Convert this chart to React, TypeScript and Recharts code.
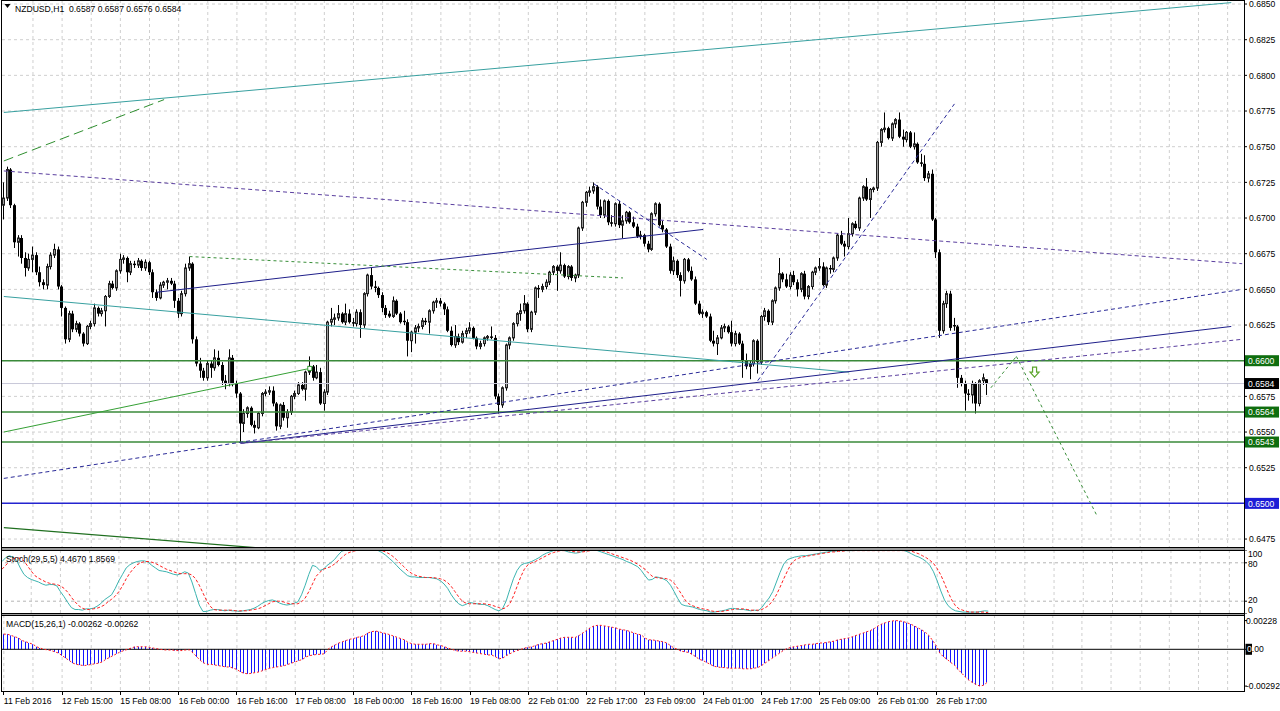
import React from 'react';
import { ComposedChart, Bar, Line, XAxis, YAxis, CartesianGrid, ReferenceLine, ReferenceDot } from 'recharts';

const FONT = "'Liberation Sans', Arial, sans-serif";
const FS = 8.6;
const SLOTS = 341; // 271 bars plus the empty chart shift on the right

// NZDUSD H1 candles, in pips above 0.6500: open high low close
const candleText = `
209 225 199 214, 214 236 212 234, 234 235 207 209, 209 210 179 183, 183 188 173 186, 186 188 168 172, 172 176 159 165, 165 175 163 171, 171 180 162 174, 174 176 160 162,
162 166 152 155, 155 157 150 153, 153 168 150 166, 166 176 164 174, 174 182 172 178, 178 180 150 152, 152 153 131 137, 137 138 112 115, 115 135 113 133, 133 135 120 122,
122 128 120 126, 126 127 117 119, 119 120 110 112, 112 125 111 124, 124 128 122 126, 126 140 124 137, 137 138 131 133, 133 137 131 135, 135 146 124 145, 145 156 144 154,
154 156 150 151, 151 164 149 163, 163 175 161 171, 171 174 168 172, 172 173 155 162, 162 170 160 168, 168 170 165 167, 167 172 165 170, 170 171 163 165, 165 171 163 169,
169 170 160 162, 162 164 144 148, 148 150 142 144, 144 155 143 153, 153 156 151 155, 155 158 150 156, 156 158 153 154, 154 156 137 142, 142 144 130 133, 133 149 131 147,
147 168 145 165, 165 173 163 168, 168 169 112 115, 115 117 96 98, 98 102 88 93, 93 95 86 88, 88 100 86 98, 98 100 88 95, 95 108 93 102, 102 107 96 97,
97 99 83 86, 86 90 80 84, 84 108 82 102, 102 104 82 84, 84 86 74 77, 77 78 43 56, 56 66 50 63, 63 68 60 67, 67 68 54 55, 55 58 49 53,
53 64 52 63, 63 78 61 77, 77 80 75 78, 78 82 76 79, 79 82 68 70, 70 71 51 54, 54 70 52 69, 69 71 58 60, 60 66 53 64, 64 76 62 75,
75 79 73 77, 77 85 76 83, 83 85 79 80, 80 93 72 92, 92 103 90 96, 96 97 86 88, 88 97 87 92, 92 95 69 70, 70 80 65 78, 78 128 76 127,
127 137 124 129, 129 133 125 130, 130 139 128 133, 133 134 126 127, 127 140 125 133, 133 136 126 127, 127 130 124 126, 126 136 124 134, 134 136 116 125, 125 148 123 147,
147 161 145 160, 160 165 150 152, 152 156 148 151, 151 152 144 146, 146 148 134 137, 137 139 130 132, 133 135 130 131, 131 145 130 142, 142 143 132 133, 133 134 126 127,
128 135 125 127, 127 129 103 114, 114 121 106 120, 120 125 112 123, 123 126 120 124, 124 130 122 128, 128 130 125 127, 127 136 119 135, 135 142 133 141, 141 144 137 142,
142 144 138 140, 140 141 132 136, 136 138 120 121, 121 124 110 111, 111 125 109 117, 117 119 111 113, 113 121 112 119, 119 123 116 121, 121 127 119 123, 123 124 115 116,
116 117 108 110, 110 114 108 112, 112 117 110 116, 116 118 114 117, 117 124 115 116, 116 118 73 75, 75 77 63 69, 69 82 67 81, 81 112 79 111, 111 117 108 116,
116 127 114 126, 126 134 124 133, 133 140 128 135, 135 146 133 140, 140 141 120 122, 122 135 120 134, 134 152 132 151, 151 153 144 150, 150 154 148 152, 152 157 150 155,
155 163 153 162, 162 167 160 166, 166 167 149 163, 163 176 161 167, 167 168 158 159, 159 167 157 166, 166 167 156 158, 158 161 155 160, 160 194 158 193, 193 212 191 211,
211 219 208 218, 218 222 215 219, 219 225 217 222, 222 223 206 208, 208 213 200 202, 202 213 200 212, 212 213 195 197, 197 202 194 196, 196 211 194 210, 210 212 193 195,
195 202 186 198, 198 205 196 204, 204 205 196 197, 197 201 193 194, 194 196 186 187, 187 191 185 188, 188 189 180 182, 182 184 176 178, 178 204 177 203, 203 211 201 210,
210 211 194 195, 195 198 190 192, 192 193 179 180, 180 182 161 163, 163 173 160 170, 170 171 158 160, 160 162 145 156, 156 172 154 171, 171 172 162 163, 163 166 156 157,
157 159 139 140, 140 142 132 133, 133 136 130 134, 134 135 130 131, 131 133 113 114, 114 121 110 112, 112 118 104 116, 116 125 115 123, 123 126 120 124, 124 125 119 120,
120 128 110 112, 112 121 110 119, 119 120 111 112, 112 114 88 100, 100 105 94 96, 96 100 87 98, 98 115 96 114, 114 115 91 99, 99 132 97 131, 131 137 128 135,
135 136 125 127, 127 143 125 142, 142 152 140 151, 151 172 149 161, 161 162 155 157, 157 161 151 152, 152 162 150 160, 160 163 153 155, 155 157 145 150, 150 162 148 161,
161 163 143 145, 145 153 143 152, 152 163 150 162, 162 166 160 165, 165 172 163 166, 166 169 152 153, 153 166 151 165, 165 167 161 164, 164 173 162 172, 172 189 170 188,
188 191 181 182, 182 184 173 180, 180 200 178 189, 189 197 187 196, 196 198 192 193, 193 215 191 214, 214 223 212 222, 222 228 212 213, 213 221 200 220, 220 222 218 221,
221 254 219 253, 253 263 250 262, 262 274 260 263, 263 264 255 256, 256 267 254 266, 266 270 263 269, 269 274 256 257, 257 262 250 255, 255 261 253 260, 260 261 249 250,
250 260 248 252, 252 253 238 239, 239 245 236 238, 238 244 226 228, 228 233 225 231, 231 234 198 199, 199 200 172 176, 176 178 116 121, 121 142 119 140, 140 149 137 147,
147 149 121 123, 125 130 121 124, 124 125 81 88, 88 90 82 84, 84 86 65 77, 77 80 72 76, 76 86 70 84, 84 85 63 70, 70 87 68 86, 86 91 83 88, 87 87 76 84`;

const stochK = [
  82, 88, 91, 89, 84, 72, 62, 57, 54, 52, 50, 47, 45, 46, 46, 44, 35, 27, 18, 10,
  7, 7, 6, 8, 8, 9, 12, 16, 22, 26, 30, 40, 52, 62, 72, 77, 80, 82, 83, 83,
  81, 76, 72, 68, 67, 66, 64, 62, 61, 63, 66, 64, 50, 32, 14, 4, 4, 6, 7, 7,
  6, 5, 6, 5, 5, 4, 5, 6, 7, 9, 12, 16, 19, 21, 22, 20, 17, 15, 14, 15,
  17, 19, 30, 45, 62, 76, 74, 68, 70, 76, 80, 85, 92, 98, 100, 100, 100, 100, 100, 100,
  100, 100, 100, 99, 96, 92, 87, 82, 76, 70, 65, 60, 58, 58, 57, 57, 57, 57, 56, 55,
  52, 47, 40, 30, 22, 16, 13, 15, 18, 17, 16, 15, 15, 13, 10, 7, 5, 8, 20, 38,
  55, 68, 76, 79, 80, 82, 85, 88, 92, 95, 97, 99, 100, 100, 99, 97, 96, 95, 96, 98,
  100, 100, 100, 99, 97, 95, 93, 91, 89, 87, 85, 82, 80, 77, 74, 68, 60, 53, 54, 58,
  57, 55, 52, 45, 35, 24, 15, 13, 12, 11, 9, 7, 6, 5, 3, 3, 4, 5, 6, 8,
  9, 8, 7, 7, 6, 5, 6, 5, 10, 18, 25, 35, 50, 65, 78, 85, 87, 89, 90, 91,
  91, 92, 93, 94, 95, 96, 97, 98, 98, 99, 99, 99, 99, 99, 100, 100, 100, 100, 100, 100,
  100, 100, 100, 100, 100, 100, 100, 99, 97, 94, 91, 89, 86, 82, 76, 66, 52, 36, 22, 13,
  8, 5, 4, 3, 3, 3, 3, 3, 4, 5, 4.467,
];

const stochD = [
  70, 76, 82, 86, 88, 87, 83, 75, 67, 60, 56, 53, 50, 48, 47, 46, 44, 40, 34, 26,
  19, 13, 9, 7, 7, 8, 9, 11, 14, 19, 23, 28, 35, 44, 55, 64, 71, 77, 80, 82,
  82, 81, 79, 76, 73, 70, 68, 66, 64, 63, 63, 63, 61, 55, 45, 33, 21, 12, 7, 6,
  6, 6, 6, 6, 5, 5, 5, 5, 6, 7, 8, 10, 13, 16, 19, 20, 20, 19, 17, 16,
  16, 16, 19, 25, 35, 47, 59, 65, 70, 72, 74, 78, 83, 88, 93, 96, 98, 99, 100, 100,
  100, 100, 100, 100, 99, 97, 94, 90, 85, 79, 74, 68, 64, 61, 59, 58, 57, 57, 57, 56,
  55, 53, 49, 43, 35, 27, 20, 17, 16, 16, 16, 16, 16, 15, 14, 12, 10, 8, 10, 16,
  28, 43, 58, 70, 77, 80, 82, 85, 88, 91, 94, 96, 98, 99, 99, 99, 98, 97, 97, 97,
  98, 99, 100, 100, 99, 98, 96, 94, 92, 90, 88, 86, 84, 81, 78, 74, 70, 64, 59, 57,
  56, 56, 55, 53, 48, 40, 31, 22, 16, 13, 11, 9, 8, 7, 5, 4, 4, 4, 5, 6,
  7, 8, 8, 8, 7, 6, 6, 6, 7, 10, 14, 21, 30, 42, 55, 67, 78, 84, 87, 89,
  90, 91, 92, 93, 94, 95, 96, 97, 97, 98, 98, 99, 99, 99, 99, 99, 99, 99, 99, 99,
  99, 99, 99, 99, 99, 99, 99, 99, 99, 98, 96, 94, 91, 88, 84, 79, 71, 61, 48, 34,
  22, 13, 8, 6, 4, 3, 3, 3, 3, 3, 1.8569,
];

// MACD(15,26,1) main value, in units of 0.0001
const macdHist = [
  12, 12, 11, 10, 9, 7, 6, 5, 4, 2, 1, 0, -0.5, -1, -2, -3, -5, -7, -9, -11,
  -12, -12.5, -13, -12.5, -12, -11.5, -11, -10, -8, -6.5, -5, -3.5, -2, -1, 0, 1, 2, 2, 2, 2,
  1.5, 1, 0.5, 0, -0.5, -0.5, -0.5, -1, -1, -1, -0.5, -0.5, -3, -6, -9, -11, -12, -12, -12.5, -13,
  -13.5, -14, -14, -15, -16, -18, -19, -19.5, -19, -18.5, -18, -17, -16, -15, -14.5, -14, -13.5, -13, -12, -11,
  -10, -9, -8, -6, -5, -4.5, -4, -4, -3.5, 0, 2, 3.5, 5, 6, 7, 8, 8.5, 9.5, 10, 11,
  13, 14, 14.5, 14, 13, 12.5, 11.5, 10.5, 9.5, 8.5, 7.5, 5.5, 4.5, 4, 4, 4, 4, 4.5, 4.5, 3.5,
  3, 2, 1, 0, -1, -1.5, -1.5, -1.5, -2, -2.5, -3, -3.5, -4, -4.5, -4.5, -6, -7.5, -7, -5, -3.5,
  -2, -1, 0, 1, 1.5, 2, 3, 4, 4.5, 5, 6, 7, 8, 9, 9.5, 9.5, 9.5, 9.5, 11, 13,
  15, 17, 18.5, 19, 19, 18.5, 18, 17.5, 17, 16, 15.5, 15, 14, 13, 12, 11.5, 9, 7.5, 7.5, 7,
  6.5, 6, 5, 3, 1, 0, -1.5, -2, -2.5, -4, -6, -8, -9, -10.5, -12, -13.5, -14, -14.5, -14.5, -15,
  -15, -15, -15, -15.5, -15.5, -15.5, -15, -14.5, -13, -11, -9, -7, -5, -3, -1, 0.5, 1.5, 2, 2.5, 3,
  3.5, 4, 4, 4.5, 5, 5, 5.5, 6, 6.5, 7.5, 8, 8.5, 9, 10, 11, 12, 13, 14, 15, 16.5,
  18.5, 20, 21, 22, 22.5, 22.8, 22.5, 22, 21, 20, 18.5, 17, 15.5, 13.5, 11, 7, 3, -3, -6, -8,
  -10.5, -12.5, -16, -19, -22, -24.5, -26.5, -28, -29.2, -28.5, -26.2,
];

const timeLabels = [
  '11 Feb 2016', '12 Feb 15:00', '15 Feb 08:00', '16 Feb 00:00', '16 Feb 16:00', '17 Feb 08:00',
  '18 Feb 00:00', '18 Feb 16:00', '19 Feb 08:00', '22 Feb 01:00', '22 Feb 17:00', '23 Feb 09:00',
  '24 Feb 01:00', '24 Feb 17:00', '25 Feb 09:00', '26 Feb 01:00', '26 Feb 17:00',
];

const gridPrices = [0.6475, 0.65, 0.6525, 0.655, 0.6575, 0.66, 0.6625, 0.665, 0.6675, 0.67, 0.6725, 0.675, 0.6775, 0.68, 0.6825, 0.685];
const plainPriceTicks = [0.6475, 0.6525, 0.655, 0.6575, 0.6625, 0.665, 0.6675, 0.67, 0.6725, 0.675, 0.6775, 0.68, 0.6825, 0.685];
const stochTicks = [100, 80, 20, 0];
const macdTicks = [0.00228, 0, -0.00292];

// horizontal levels with their price tags
const levels = [
  { price: 0.66, kind: 'green' },
  { price: 0.6564, kind: 'green' },
  { price: 0.6543, kind: 'green' },
  { price: 0.65, kind: 'blue' },
];

// hand drawn objects: [bar index, price]
const trendLines = [
  { from: [0, 0.6774], to: [337, 0.6851], kind: 'teal' },
  { from: [0, 0.674], to: [44, 0.6783], kind: 'greenLong' },
  { from: [0, 0.6733], to: [340, 0.6668], kind: 'purpleDot' },
  { from: [0, 0.6645], to: [232, 0.6592], kind: 'teal' },
  { from: [42, 0.6648], to: [192, 0.6692], kind: 'navy' },
  { from: [51, 0.6673], to: [170, 0.6658], kind: 'greenDot' },
  { from: [162, 0.6724], to: [193, 0.6671], kind: 'navyDot' },
  { from: [207, 0.6586], to: [261, 0.678], kind: 'navyDot' },
  { from: [65, 0.6542], to: [337, 0.6624], kind: 'navy' },
  { from: [0, 0.65175], to: [340, 0.665], kind: 'navyDot' },
  { from: [65, 0.6542], to: [340, 0.6615], kind: 'purpleDot' },
  { from: [0, 0.655], to: [84, 0.65946], kind: 'green' },
  { from: [0, 0.6483], to: [69, 0.6469], kind: 'darkGreen' },
  { from: [271, 0.6581], to: [278, 0.6603], kind: 'greenDot' },
  { from: [278, 0.6603], to: [300, 0.6492], kind: 'greenDot' },
];
const arrowMark = { bar: 283, price: 0.6592 };
const endMark = { bar: 84, price: 0.65946 };

const lineStyles: Record<string, { stroke: string; width: number; dash?: string }> = {
  teal: { stroke: '#38a0a0', width: 1 },
  greenLong: { stroke: '#2f8f2f', width: 1, dash: '10 5' },
  purpleDot: { stroke: '#5b3f9f', width: 1, dash: '4 3' },
  navy: { stroke: '#1f1f8a', width: 1 },
  navyDot: { stroke: '#2a2a98', width: 1, dash: '4 3' },
  greenDot: { stroke: '#3a8f3a', width: 1, dash: '3 3' },
  green: { stroke: '#35a035', width: 1 },
  darkGreen: { stroke: '#1f6f1f', width: 1.2 },
};
const levelColors: Record<string, { line: string; tag: string }> = {
  green: { line: '#3a8a3a', tag: '#0f6e0f' },
  blue: { line: '#2424d0', tag: '#1c1cd6' },
};

const candles = candleText.trim().split(',').map((s) => {
  const [o, h, l, c] = s.trim().split(/\s+/).map((v) => +(0.65 + Number(v) / 10000).toFixed(4));
  return { o, h, l, c };
});
const last = candles[candles.length - 1];

const rows = Array.from({ length: SLOTS }, (_, i) => {
  const cd = candles[i];
  return {
    i,
    range: cd ? [cd.l, cd.h] : null,
    o: cd ? cd.o : null,
    h: cd ? cd.h : null,
    l: cd ? cd.l : null,
    c: cd ? cd.c : null,
    k: stochK[i] ?? null,
    d: stochD[i] ?? null,
    macd: macdHist[i] != null ? macdHist[i] / 10000 : null,
  };
});

const gridBars = Array.from({ length: 43 }, (_, n) => n * 8);
const labelBars = timeLabels.map((_, n) => n * 16);

const tags = [
  ...levels.map((l) => ({ price: l.price, bg: levelColors[l.kind].tag })),
  { price: last.c, bg: '#000' },
];
const mainTicks = [...plainPriceTicks, ...tags.map((t) => t.price)];

const MAIN_DOMAIN = [0.646872, 0.685282];
const MACD_DOMAIN = [-0.003389, 0.002722];

const Candle = (props: any) => {
  const { x, y, width, height, payload } = props;
  if (!payload || payload.o == null) return null;
  const top = Math.min(y, y + height);
  const span = Math.abs(height);
  const { o, h, l, c } = payload;
  const k = h > l ? span / (h - l) : 0;
  const cx = Math.floor(x + width / 2) + 0.5;
  const yo = top + (h - o) * k;
  const yc = top + (h - c) * k;
  const bTop = Math.min(yo, yc);
  const bH = Math.max(Math.abs(yc - yo), 1);
  const bull = c >= o;
  return (
    <g>
      <line x1={cx} x2={cx} y1={top} y2={top + Math.max(span, 1)} stroke="#000" strokeWidth={1} />
      {bull ? (
        <rect x={cx - 1} y={bTop} width={2} height={bH} fill="#9c9c9c" stroke="#222" strokeWidth={1} />
      ) : (
        <rect x={cx - 1.5} y={bTop} width={3} height={bH} fill="#000" />
      )}
    </g>
  );
};

const MacdBar = (props: any) => {
  const { x, y, width, height } = props;
  if (height == null || isNaN(y)) return null;
  const top = Math.min(y, y + height);
  return <rect x={Math.floor(x + width / 2)} y={top} width={1} height={Math.abs(height)} fill="#1414ff" />;
};

const PriceTick = (props: any) => {
  const { x, y, payload } = props;
  const v = payload.value;
  const tag = tags.find((t) => Math.abs(t.price - v) < 1e-7);
  if (tag) {
    return (
      <g>
        <rect x={x - 4} y={y - 5.5} width={34} height={11} fill={tag.bg} />
        <text x={x - 1} y={y + 3.2} fill="#fff" fontSize={FS} fontFamily={FONT}>{v.toFixed(4)}</text>
      </g>
    );
  }
  return <text x={x} y={y + 3.2} fill="#000" fontSize={FS} fontFamily={FONT}>{v.toFixed(4)}</text>;
};

// the terminal pulls the end labels of the stoch scale inside the pane
const stochLabelShift: Record<number, number> = { 100: 4, 80: 1.5, 20: -1.5, 0: -4 };
const StochTick = (props: any) => {
  const { x, y, payload } = props;
  const v = payload.value;
  const yy = y + (stochLabelShift[v] ?? 0);
  return <text x={x - 1} y={yy + 3} fill="#000" fontSize={FS} fontFamily={FONT}>{v}</text>;
};

const MacdTick = (props: any) => {
  const { x, y, payload } = props;
  const v = payload.value;
  if (v === 0) {
    return (
      <g>
        <rect x={x - 3.5} y={y - 5.5} width={6.5} height={11} fill="#000" />
        <text x={x - 2} y={y + 3.2} fill="#000" fontSize={FS} fontFamily={FONT}>
          <tspan fill="#fff">0</tspan>.00
        </text>
      </g>
    );
  }
  return <text x={x - 3} y={y + 3.2} fill="#000" fontSize={FS} fontFamily={FONT}>{v.toFixed(5)}</text>;
};

const TimeTick = (props: any) => {
  const { x, y, payload } = props;
  const px = Math.floor(x) + 0.5;
  const label = timeLabels[Math.round(payload.value / 16)];
  return (
    <g>
      <line x1={px} x2={px} y1={y} y2={y + 3} stroke="#000" />
      <text x={x} y={y + 12} textAnchor="start" fill="#000" fontSize={FS} fontFamily={FONT}>
        {label}
      </text>
    </g>
  );
};

const ArrowDown = (props: any) => {
  const { cx, cy } = props;
  const d = `M${cx - 2},${cy - 5} H${cx + 2} V${cy} H${cx + 4.5} L${cx},${cy + 5} L${cx - 4.5},${cy} H${cx - 2} Z`;
  return <path d={d} fill="#fff" stroke="#5ca52c" strokeWidth={1.2} />;
};

const EndSquare = (props: any) => {
  const { cx, cy } = props;
  return <rect x={cx - 2} y={cy - 2} width={4} height={4} fill="#fff" stroke="#35a035" strokeWidth={1} />;
};

const f4 = (v: number) => v.toFixed(4);

export default function App() {
  const lastK = stochK[stochK.length - 1];
  const lastD = stochD[stochD.length - 1];
  const lastM = macdHist[macdHist.length - 1] / 10000;
  const textStyle = { fontSize: FS, fontFamily: FONT, fill: '#000', whiteSpace: 'pre' as const };

  return (
    <div style={{ position: 'absolute', left: 0, top: 0, width: 1280, height: 711, background: '#fff', overflow: 'hidden' }}>
      <div style={{ position: 'absolute', left: 0, top: 0 }}>
        <ComposedChart width={1280} height={548} data={rows} margin={{ top: 0, right: 0, bottom: 0, left: 2 }}>
          <CartesianGrid stroke="#cfcfcf" strokeDasharray="3 3" horizontalValues={gridPrices} verticalValues={gridBars} />
          <XAxis dataKey="i" type="category" hide ticks={gridBars} />
          <YAxis
            orientation="right"
            type="number"
            width={36}
            domain={MAIN_DOMAIN}
            allowDataOverflow
            ticks={mainTicks}
            interval={0}
            axisLine={false}
            tickLine={{ stroke: '#000' }}
            tickSize={3}
            tickMargin={2}
            tick={PriceTick}
          />
          <ReferenceLine y={last.c} stroke="#c9c9d9" strokeWidth={1} />
          {levels.map((l) => (
            <ReferenceLine key={l.price} y={l.price} stroke={levelColors[l.kind].line} strokeWidth={1.5} />
          ))}
          {trendLines.map((t, n) => {
            const s = lineStyles[t.kind];
            return (
              <ReferenceLine
                key={n}
                segment={[{ x: t.from[0], y: t.from[1] }, { x: t.to[0], y: t.to[1] }]}
                stroke={s.stroke}
                strokeWidth={s.width}
                strokeDasharray={s.dash}
                ifOverflow="hidden"
              />
            );
          })}
          <Bar dataKey="range" shape={Candle} barSize={3} isAnimationActive={false} />
          <ReferenceDot x={arrowMark.bar} y={arrowMark.price} shape={ArrowDown} ifOverflow="visible" />
          <ReferenceDot x={endMark.bar} y={endMark.price} shape={EndSquare} ifOverflow="visible" />
        </ComposedChart>
      </div>

      <div style={{ position: 'absolute', left: 0, top: 550 }}>
        <ComposedChart width={1280} height={64} data={rows} margin={{ top: 0, right: 0, bottom: 0, left: 2 }}>
          <CartesianGrid stroke="#cfcfcf" strokeDasharray="3 3" horizontal={false} verticalValues={gridBars} />
          <XAxis dataKey="i" type="category" hide ticks={gridBars} />
          <YAxis
            orientation="right"
            type="number"
            width={36}
            domain={[0, 100]}
            allowDataOverflow
            ticks={stochTicks}
            interval={0}
            axisLine={false}
            tickLine={{ stroke: '#000' }}
            tickSize={3}
            tickMargin={2}
            tick={StochTick}
          />
          <ReferenceLine y={80} stroke="#b4b4b4" strokeDasharray="3 3" />
          <ReferenceLine y={20} stroke="#b4b4b4" strokeDasharray="3 3" />
          <Line dataKey="k" stroke="#3cb4b0" strokeWidth={1} dot={false} isAnimationActive={false} />
          <Line dataKey="d" stroke="#ff2020" strokeWidth={1} strokeDasharray="3 2" dot={false} isAnimationActive={false} />
        </ComposedChart>
      </div>

      <div style={{ position: 'absolute', left: 0, top: 615 }}>
        <ComposedChart width={1280} height={96} data={rows} margin={{ top: 0, right: 0, bottom: 0, left: 2 }}>
          <CartesianGrid stroke="#cfcfcf" strokeDasharray="3 3" horizontal={false} verticalValues={gridBars} />
          <XAxis
            dataKey="i"
            type="category"
            height={19}
            ticks={labelBars}
            interval={0}
            axisLine={false}
            tickLine={false}
            tickSize={0}
            tickMargin={0}
            tick={TimeTick}
          />
          <YAxis
            orientation="right"
            type="number"
            width={36}
            domain={MACD_DOMAIN}
            allowDataOverflow
            ticks={macdTicks}
            interval={0}
            axisLine={false}
            tickLine={{ stroke: '#000' }}
            tickSize={3}
            tickMargin={2}
            tick={MacdTick}
          />
          <ReferenceLine y={0} stroke="#000" strokeWidth={1} />
          <Bar dataKey="macd" shape={MacdBar} barSize={1} isAnimationActive={false} />
          <Line dataKey="macd" stroke="#ff2020" strokeWidth={1} strokeDasharray="2 2" dot={false} isAnimationActive={false} />
        </ComposedChart>
      </div>

      <svg width={1280} height={711} style={{ position: 'absolute', left: 0, top: 0, pointerEvents: 'none' }}>
        {/* pane frames */}
        <g stroke="#000" strokeWidth={1} fill="none">
          <line x1={1.5} x2={1.5} y1={0} y2={692} />
          <line x1={1244.5} x2={1244.5} y1={0} y2={692} />
          <line x1={1.5} x2={1244.5} y1={0.5} y2={0.5} />
          <line x1={1.5} x2={1244.5} y1={547.5} y2={547.5} />
          <line x1={1.5} x2={1244.5} y1={550.5} y2={550.5} />
          <line x1={1.5} x2={1244.5} y1={613.5} y2={613.5} />
          <line x1={1.5} x2={1244.5} y1={615.5} y2={615.5} />
          <line x1={1.5} x2={1244.5} y1={691.5} y2={691.5} />
        </g>
        <rect x={2} y={548} width={1242} height={2} fill="#9c9c9c" />
        <rect x={2} y={614} width={1242} height={1} fill="#9c9c9c" />
        <polygon points="4.5,4 10.5,4 7.5,8" fill="#000" />
        <text x={15} y={11.5} style={textStyle}>
          {`NZDUSD,H1  ${f4(last.o)} ${f4(last.h)} ${f4(last.l)} ${f4(last.c)}`}
        </text>
        <text x={6} y={561.5} style={textStyle}>
          {`Stoch(29,5,5) ${lastK.toFixed(4)} ${lastD.toFixed(4)}`}
        </text>
        <text x={6} y={627} style={textStyle}>
          {`MACD(15,26,1) ${lastM.toFixed(5)} ${lastM.toFixed(5)}`}
        </text>
      </svg>
    </div>
  );
}
